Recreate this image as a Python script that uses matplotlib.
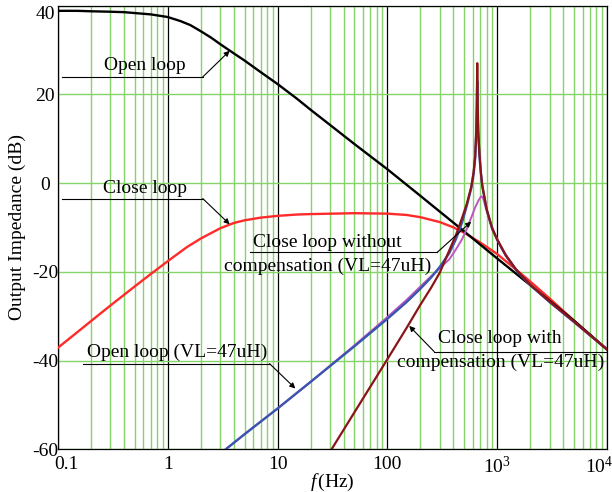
import matplotlib.pyplot as plt
from matplotlib.ticker import LogLocator, NullFormatter
from matplotlib.transforms import ScaledTranslation

plt.rcParams['font.family'] = 'Liberation Serif'
plt.rcParams['mathtext.fontset'] = 'custom'
plt.rcParams['mathtext.rm'] = 'Liberation Serif'
plt.rcParams['mathtext.it'] = 'Liberation Serif:italic'
plt.rcParams['font.size'] = 14

# output impedance curves, frequency in Hz, magnitude in dB
f_open = [0.1, 0.15, 0.2, 0.3, 0.4, 0.5, 0.7, 1, 1.3, 1.6, 2, 2.5, 3, 4, 5,
          7, 10, 15, 20, 30, 50, 100, 200, 500, 1000, 2000, 5000, 10000]
z_open = [38.8, 38.8, 38.7, 38.6, 38.5, 38.3, 38.0, 37.4, 36.5, 35.6, 34.2,
          32.7, 31.3, 29.2, 27.6, 25.0, 22.3, 19.0, 16.5, 13.1, 8.8, 3.1,
          -2.9, -10.9, -17.0, -23.0, -31.0, -37.5]

f_close = [0.1, 0.15, 0.2, 0.3, 0.5, 0.7, 1, 1.5, 2, 3, 4, 5, 7, 10, 15, 20,
           50, 100, 150, 200, 300, 400, 500, 700, 1000, 1500, 2000, 3000,
           5000, 10000]
z_close = [-37.1, -33.6, -31.1, -27.6, -23.3, -20.5, -17.6, -14.4, -12.5,
           -10.2, -9.0, -8.4, -7.8, -7.4, -7.1, -7.0, -6.8, -6.9, -7.2, -7.7,
           -8.8, -10.0, -11.2, -13.4, -16.0, -19.6, -22.2, -26.0, -31.0, -37.5]

f_open_vl = [3.37, 5, 10, 20, 50, 100, 150, 200, 250, 300, 366, 420, 480, 530,
             580, 610, 630, 645, 652, 658, 664, 672, 690, 710, 731, 800, 900,
             1000, 1200, 1500, 2000, 3000, 5000, 10000]
z_open_vl = [-60.0, -56.6, -50.8, -44.8, -36.8, -30.6, -26.8, -23.8, -21.3,
             -18.9, -15.8, -12.7, -8.8, -5.0, -1.2, 2.0, 5.5, 11.0, 16.0, 23.0,
             16.0, 11.0, 6.0, 2.2, -0.6, -5.9, -10.3, -12.8, -16.4, -19.7,
             -23.0, -26.8, -31.3, -37.5]

f_no_comp = [3.37, 5, 10, 20, 50, 100, 150, 200, 250, 300, 366, 420, 480, 525,
             580, 630, 680, 716, 740, 780, 850, 950, 1100, 1500, 2000, 3000,
             5000, 10000]
z_no_comp = [-60.0, -56.6, -50.8, -44.8, -36.6, -30.2, -26.3, -23.3, -21.0,
             -19.2, -17.2, -15.0, -12.6, -10.5, -7.8, -5.5, -3.8, -3.0, -3.2,
             -5.2, -8.4, -11.5, -14.8, -19.7, -23.0, -26.8, -31.3, -37.5]

f_comp = [31, 50, 100, 150, 200, 250, 300, 366, 420, 480, 530, 580, 610, 630,
          645, 652, 658, 664, 672, 690, 710, 731, 800, 900, 1000, 1200, 1500,
          2000, 3000, 5000, 10000]
z_comp = [-60.0, -51.7, -39.7, -32.6, -27.4, -23.6, -20.2, -15.2, -11.8,
          -7.8, -4.6, -0.9, 2.5, 6.0, 12.0, 18.0, 27.0, 18.0, 12.0, 6.5, 2.5,
          -0.5, -5.8, -10.2, -12.7, -16.3, -19.6, -22.9, -26.7, -31.2, -37.5]

x_ticks = [0.1, 1, 10, 100, 1000, 10000]
x_labels = ['0.1', '1', '10', '100', r'$10^3$', r'$10^4$']
y_ticks = [-60, -40, -20, 0, 20, 40]
y_labels = ['-60', '-40', '-20', '0', '20', '40']

grid_green = '#86d36a'

fig = plt.figure(figsize=(6.12, 4.92), dpi=100)
ax = fig.add_axes([0.0948, 0.0868, 0.8970, 0.9020])

ax.plot(f_close, z_close, color='#ff2a2a', lw=1.7, zorder=3)
ax.plot(f_open, z_open, color='black', lw=1.7, zorder=4)
ax.plot(f_no_comp, z_no_comp, color='#c054c0', lw=1.4, zorder=5)
ax.plot(f_open_vl, z_open_vl, color='#3a55b0', lw=1.7, zorder=6)
ax.plot(f_comp, z_comp, color='#8a1518', lw=1.6, zorder=7)

ax.set_xscale('log')
ax.set_xlim(0.1, 10000)
ax.set_ylim(-60, 40)

ax.set_xticks(x_ticks)
ax.set_xticklabels(x_labels)
ax.xaxis.set_minor_locator(LogLocator(base=10, subs=range(2, 10), numticks=100))
ax.xaxis.set_minor_formatter(NullFormatter())
ax.set_yticks(y_ticks)
ax.set_yticklabels(y_labels, ha='center')
ax.tick_params(which='both', length=0)
ax.tick_params(axis='y', pad=9.4)
ax.tick_params(axis='x', pad=5)

ax.set_axisbelow(True)
ax.grid(True, which='minor', axis='x', color=grid_green, lw=1.0)
ax.grid(True, which='major', axis='x', color='black', lw=0.9)
ax.grid(True, which='major', axis='y', color=grid_green, lw=1.0)
for s in ax.spines.values():
    s.set_linewidth(0.9)

# keep end labels inside the frame
xl = ax.get_xticklabels()
xl[0].set_transform(xl[0].get_transform() + ScaledTranslation(0.08, 0, fig.dpi_scale_trans))
xl[-1].set_transform(xl[-1].get_transform() + ScaledTranslation(-0.08, 0, fig.dpi_scale_trans))
yl = ax.get_yticklabels()
yl[-1].set_transform(yl[-1].get_transform() + ScaledTranslation(0, -0.065, fig.dpi_scale_trans))

ax.set_xlabel(r'$f\,$(Hz)')
ax.xaxis.set_label_coords(0.5, -0.051)
ax.set_ylabel('Output Impedance (dB)')
ax.yaxis.set_label_coords(-0.059, 0.5)

arrow = dict(arrowstyle='-|>', color='black', lw=0.8, mutation_scale=8,
             shrinkA=0, shrinkB=0)


def callout(lines, text_x, text_y, line_y, x0, x1, tip, line_gap=5.4):
    # leader: horizontal rule then an arrow to the curve
    ax.plot([x0, x1], [line_y, line_y], color='black', lw=0.8, zorder=8)
    ax.annotate('', xy=tip, xytext=(x1, line_y), arrowprops=arrow, zorder=8)
    for i, s in enumerate(lines):
        ax.text(text_x, text_y - i * line_gap, s, ha='center', va='center',
                zorder=9)


callout(['Open loop'], 0.62, 26.4, 23.9, 0.109, 2.08, (3.66, 29.8))
callout(['Close loop'], 0.62, -1.3, -3.5, 0.109, 2.08, (3.66, -9.3))
callout(['Close loop without', 'compensation (VL=47uH)'], 28.4, -13.3, -15.6,
        5.56, 285, (580, -8.7))
callout(['Close loop with', 'compensation (VL=47uH)'], 1065, -35.1, -38.0,
        10000, 267, (158, -32.2))
callout(['Open loop (VL=47uH)'], 1.21, -38.2, -40.7, 0.169, 8.45, (14.5, -46.3))

fig.savefig('out.png', dpi=100)
